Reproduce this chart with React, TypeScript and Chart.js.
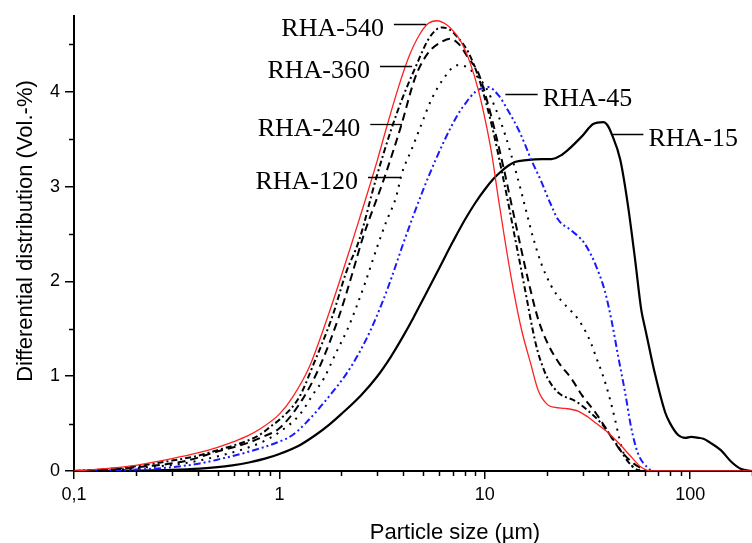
import React, { useEffect, useRef } from "react";
import { Chart, registerables } from "chart.js";

Chart.register(...registerables);

// ---------- data ----------
const seriesNames = ["RHA-540", "RHA-360", "RHA-240", "RHA-120", "RHA-45", "RHA-15"];

const x540 = [0.1, 0.15, 0.2, 0.3, 0.4, 0.5, 0.6, 0.7, 0.8, 1.0, 1.16, 1.4, 1.69, 1.95, 2.31, 2.63, 3.0, 3.3, 3.8, 4.27, 4.8, 5.3, 5.84, 6.5, 7.1, 7.7, 8.5, 9.3, 10.1, 10.8, 11.6, 12.5, 13.5, 15.1, 16.7, 18.2, 20.2, 22, 24.7, 28.6, 31.8, 35, 38.6, 44.6, 51.6, 57.8, 65, 100, 200];
const y540 = [0, 0.03, 0.06, 0.13, 0.19, 0.25, 0.31, 0.37, 0.44, 0.6, 0.78, 1.1, 1.58, 1.98, 2.48, 2.87, 3.28, 3.6, 4.05, 4.37, 4.6, 4.72, 4.75, 4.71, 4.63, 4.52, 4.3, 4.02, 3.68, 3.35, 2.9, 2.45, 2.02, 1.49, 1.14, 0.85, 0.7, 0.67, 0.66, 0.63, 0.57, 0.5, 0.43, 0.3, 0.15, 0.04, 0, 0, 0];

const x360 = [0.1, 0.15, 0.2, 0.3, 0.4, 0.5, 0.6, 0.7, 0.8, 0.92, 1.0, 1.25, 1.45, 1.81, 2.11, 2.45, 2.96, 3.5, 4.0, 4.6, 5.3, 5.84, 6.2, 6.7, 7.2, 8.3, 9.3, 10.1, 11.0, 12.0, 13.0, 14.0, 15.0, 16.0, 17.0, 18.0, 19.0, 20.2, 23.0, 27.5, 31.7, 37.0, 43.3, 49.8, 55.5, 60, 100, 200];
const y360 = [0, 0.02, 0.05, 0.11, 0.16, 0.22, 0.27, 0.32, 0.38, 0.48, 0.54, 0.78, 1.1, 1.63, 2.09, 2.44, 3.09, 3.6, 3.95, 4.26, 4.55, 4.66, 4.68, 4.66, 4.6, 4.42, 4.16, 3.9, 3.58, 3.2, 2.83, 2.47, 2.14, 1.82, 1.52, 1.28, 1.12, 0.98, 0.82, 0.74, 0.64, 0.5, 0.3, 0.1, 0.01, 0, 0, 0];

const x240 = [0.1, 0.15, 0.2, 0.34, 0.49, 0.71, 0.85, 1.0, 1.29, 1.57, 1.95, 2.27, 2.53, 3.24, 3.9, 4.6, 5.3, 6.2, 6.8, 7.5, 8.3, 9.3, 10.4, 11.4, 12.4, 14.1, 16.4, 18.2, 20.2, 22.8, 26.5, 29.7, 34.5, 38.6, 44.6, 51.6, 57.8, 62, 100, 200];
const y240 = [0, 0.015, 0.04, 0.1, 0.2, 0.3, 0.37, 0.45, 0.75, 1.1, 1.63, 2.09, 2.44, 3.09, 3.63, 4.16, 4.41, 4.53, 4.56, 4.5, 4.36, 4.2, 3.86, 3.52, 3.18, 2.62, 1.98, 1.6, 1.35, 1.15, 0.97, 0.8, 0.62, 0.46, 0.25, 0.1, 0.03, 0, 0, 0];

const x120 = [0.1, 0.15, 0.2, 0.34, 0.49, 0.71, 0.85, 1.0, 1.25, 1.47, 1.65, 1.89, 2.15, 2.37, 2.63, 3.0, 3.3, 3.7, 3.95, 4.4, 4.9, 5.5, 6.4, 7.3, 8.2, 9.0, 10.1, 11.3, 12.6, 14.0, 15.0, 16.0, 17.2, 18.9, 21.1, 23.5, 26, 28.5, 31, 33, 35, 37, 39, 41, 43, 45, 47, 50, 53, 56, 60, 100, 200];
const y120 = [0, 0.01, 0.03, 0.08, 0.15, 0.25, 0.32, 0.41, 0.59, 0.82, 0.98, 1.25, 1.5, 1.73, 2.0, 2.37, 2.62, 2.89, 3.14, 3.39, 3.65, 3.92, 4.16, 4.28, 4.26, 4.18, 4.05, 3.82, 3.54, 3.2, 2.96, 2.72, 2.46, 2.18, 1.95, 1.8, 1.7, 1.6, 1.47, 1.34, 1.19, 1.05, 0.9, 0.73, 0.55, 0.36, 0.21, 0.1, 0.04, 0.01, 0, 0, 0];

const x45 = [0.1, 0.2, 0.3, 0.41, 0.5, 0.7, 1.0, 1.16, 1.35, 1.69, 2.11, 2.45, 2.8, 3.16, 3.53, 3.95, 4.5, 5.0, 5.5, 6.4, 7.3, 8.0, 9.0, 10.4, 11.7, 13.0, 14.6, 15.8, 16.7, 18.7, 20.8, 22.8, 26.3, 30.4, 33.1, 34.4, 38.4, 41.4, 44.7, 48.3, 51.6, 55.6, 62.5, 66, 100, 200];
const y45 = [0, 0.015, 0.04, 0.08, 0.12, 0.2, 0.31, 0.38, 0.51, 0.75, 1.02, 1.25, 1.5, 1.77, 2.05, 2.36, 2.7, 2.96, 3.18, 3.5, 3.74, 3.87, 4.0, 4.05, 3.96, 3.8, 3.6, 3.43, 3.3, 3.07, 2.83, 2.65, 2.54, 2.41, 2.27, 2.19, 1.9, 1.59, 1.2, 0.82, 0.46, 0.19, 0.03, 0, 0, 0];

const x15 = [0.1, 0.2, 0.3, 0.41, 0.5, 0.59, 0.71, 0.85, 1.0, 1.25, 1.5, 1.75, 2.0, 2.5, 3.0, 3.5, 4.0, 4.5, 5.0, 6.0, 7.0, 8.0, 9.0, 10.0, 11.0, 12.0, 13.0, 14.0, 16.0, 19.0, 21.1, 23.5, 25.5, 29.7, 33.7, 37.8, 39.5, 41.4, 45.7, 49.8, 54, 57.8, 60.4, 62.5, 67.3, 75.5, 80, 87.4, 95, 101, 110, 116, 125, 141, 158, 177, 200];
const y15 = [0, 0.005, 0.012, 0.025, 0.04, 0.06, 0.09, 0.13, 0.18, 0.27, 0.38, 0.49, 0.6, 0.8, 1.0, 1.21, 1.42, 1.62, 1.81, 2.14, 2.42, 2.65, 2.83, 2.97, 3.08, 3.16, 3.22, 3.26, 3.28, 3.29, 3.29, 3.33, 3.39, 3.53, 3.66, 3.68, 3.65, 3.56, 3.28, 2.8, 2.22, 1.7, 1.5, 1.35, 1.03, 0.62, 0.5, 0.38, 0.35, 0.36, 0.35, 0.34, 0.3, 0.22, 0.1, 0.02, 0];

const xTickValues = [0.1, 1, 10, 100];
const xTickLabels = ["0,1", "1", "10", "100"];
const yTickValues = [0, 1, 2, 3, 4];
const yMinorTicks = [0.5, 1.5, 2.5, 3.5, 4.5];
const X_MIN = 0.1;
const X_MAX = 200;
const Y_MIN = 0;
const Y_MAX = 4.8;

const xTitle = "Particle size (µm)";
const yTitle = "Differential distribution (Vol.-%)";

// leader lines for the series labels (data space)
const labelLineStart = [3.61, 3.09, 2.77, 2.7, 12.6, 41.4];
const labelLineEnd = [5.18, 4.43, 3.95, 3.91, 18.1, 59.2];
const labelLineLevel = [4.72, 4.27, 3.66, 3.1, 3.98, 3.55];
const labelOnLeft = [true, true, true, true, false, false];

// ---------- styles ----------
const SANS = "'Liberation Sans', Arial, sans-serif";
const SERIF = "'Liberation Serif', 'Times New Roman', serif";

const seriesX = [x540, x360, x240, x120, x45, x15];
const seriesY = [y540, y360, y240, y120, y45, y15];
const seriesColor = ["#ff2020", "#000000", "#000000", "#000000", "#1a1aff", "#000000"];
const seriesWidth = [1.3, 2, 2, 2, 2, 2.2];
const seriesDash: number[][] = [[], [6, 3, 2, 3], [8, 5], [2, 6], [7, 3, 2, 3, 2, 3], []];

const decorPlugin = {
  id: "decor",
  afterDraw(chart: any) {
    const { ctx, chartArea } = chart;
    const xs = chart.scales.x;
    const ys = chart.scales.y;
    ctx.save();
    // minor ticks
    ctx.strokeStyle = "#000";
    ctx.lineWidth = 1.5;
    ctx.beginPath();
    for (const d of xTickValues) {
      for (let m = 2; m <= 9; m++) {
        const v = m * d;
        if (v > X_MAX) break;
        const px = Math.round(xs.getPixelForValue(v)) + 0.5;
        ctx.moveTo(px, chartArea.bottom);
        ctx.lineTo(px, chartArea.bottom + 5);
      }
    }
    for (const v of yMinorTicks) {
      const py = Math.round(ys.getPixelForValue(v)) + 0.5;
      ctx.moveTo(chartArea.left, py);
      ctx.lineTo(chartArea.left - 5, py);
    }
    ctx.stroke();

    // axis titles
    ctx.fillStyle = "#000";
    ctx.font = `22px ${SANS}`;
    ctx.textAlign = "center";
    ctx.textBaseline = "alphabetic";
    ctx.fillText(xTitle, 455, 539);
    ctx.save();
    ctx.translate(32, 231);
    ctx.rotate(-Math.PI / 2);
    ctx.fillText(yTitle, 0, 0);
    ctx.restore();

    // series labels with leader lines
    ctx.font = `26px ${SERIF}`;
    ctx.lineWidth = 1.3;
    for (let i = 0; i < seriesNames.length; i++) {
      const x1 = xs.getPixelForValue(labelLineStart[i]);
      const x2 = xs.getPixelForValue(labelLineEnd[i]);
      const py = Math.round(ys.getPixelForValue(labelLineLevel[i])) + 0.5;
      ctx.beginPath();
      ctx.moveTo(x1, py);
      ctx.lineTo(x2, py);
      ctx.stroke();
      if (labelOnLeft[i]) {
        ctx.textAlign = "right";
        ctx.fillText(seriesNames[i], x1 - 10, py + 11);
      } else {
        ctx.textAlign = "left";
        ctx.fillText(seriesNames[i], x2 + 5, py + 11);
      }
    }
    ctx.restore();
  },
};

export default function App() {
  const canvasRef = useRef<HTMLCanvasElement | null>(null);

  useEffect(() => {
    const canvas = canvasRef.current;
    if (!canvas) return;
    const datasets = seriesNames.map((name, i) => ({
      label: name,
      data: seriesX[i].map((x, j) => ({ x, y: seriesY[i][j] })),
      borderColor: seriesColor[i],
      borderWidth: seriesWidth[i],
      borderDash: seriesDash[i],
      pointRadius: 0,
      fill: false,
      cubicInterpolationMode: "monotone" as const,
      clip: 0,
    }));

    const chart = new Chart(canvas, {
      type: "line",
      data: { datasets },
      plugins: [decorPlugin],
      options: {
        animation: false,
        responsive: false,
        devicePixelRatio: 1,
        parsing: false as any,
        layout: { padding: { top: 16, left: 0, right: 0, bottom: 0 } },
        plugins: { legend: { display: false }, tooltip: { enabled: false }, title: { display: false } },
        scales: {
          x: {
            type: "logarithmic",
            min: X_MIN,
            max: X_MAX,
            afterBuildTicks: (s: any) => {
              s.ticks = xTickValues.map((v) => ({ value: v }));
            },
            afterFit: (s: any) => {
              s.height = 72;
            },
            ticks: {
              autoSkip: false,
              maxRotation: 0,
              padding: 5,
              color: "#000",
              font: { family: SANS, size: 18 },
              callback: (_v: any, idx: number) => xTickLabels[idx],
            },
            grid: { display: true, drawOnChartArea: false, drawTicks: true, tickLength: 8, lineWidth: 1.5, color: "#000" },
            border: { display: true, color: "#000", width: 2 },
          },
          y: {
            type: "linear",
            min: Y_MIN,
            max: Y_MAX,
            afterBuildTicks: (s: any) => {
              s.ticks = yTickValues.map((v) => ({ value: v }));
            },
            afterFit: (s: any) => {
              s.width = 74;
            },
            ticks: {
              padding: 5,
              color: "#000",
              font: { family: SANS, size: 18 },
              callback: (v: any) => String(v),
            },
            grid: { display: true, drawOnChartArea: false, drawTicks: true, tickLength: 9, lineWidth: 1.5, color: "#000" },
            border: { display: true, color: "#000", width: 2 },
          },
        },
      },
    });
    return () => chart.destroy();
  }, []);

  return (
    <div style={{ position: "absolute", left: 0, top: 0, width: 752, height: 543, background: "#fff" }}>
      <canvas ref={canvasRef} width={752} height={543} style={{ display: "block" }} />
    </div>
  );
}
